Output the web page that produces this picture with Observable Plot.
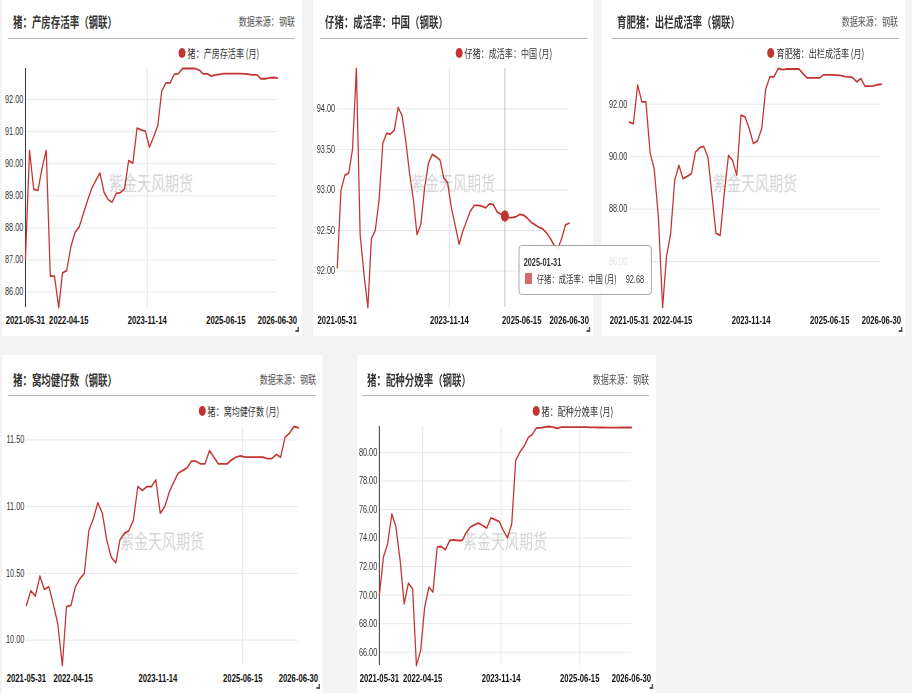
<!DOCTYPE html>
<html><head><meta charset="utf-8">
<script src="https://cdn.jsdelivr.net/npm/d3@7"></script>
<script src="https://cdn.jsdelivr.net/npm/@observablehq/plot@0.6"></script>
<style>
html,body{margin:0;padding:0;}
body{width:912px;height:693px;overflow:hidden;background:#f3f3f3;position:relative;}
#stage{position:absolute;left:0;top:0;width:1303px;height:693px;transform:scaleX(0.7);transform-origin:0 0;font-family:"Noto Sans CJK SC","Noto Sans",sans-serif;}
.panel{position:absolute;background:#fff;}
.title{position:absolute;height:20px;line-height:20px;font-size:13.5px;font-weight:700;color:#333;white-space:nowrap;}
.src{position:absolute;height:20px;line-height:20px;font-size:11.5px;color:#555;white-space:nowrap;}
.sep{position:absolute;height:1px;background:#b4b4b4;}
.ldot{position:absolute;width:10px;height:10px;border-radius:50%;background:#c23531;}
.ltxt{position:absolute;height:16px;line-height:16px;font-size:11.5px;color:#333;white-space:nowrap;}
.wm{position:absolute;font-size:20px;line-height:24px;color:#d6d6d6;white-space:nowrap;transform:translate(-50%,-50%);pointer-events:none;}
.corner{position:absolute;width:3px;height:3px;border-right:2px solid #555;border-bottom:2px solid #555;}
.chart{position:absolute;left:0;}
.tip{position:absolute;box-sizing:border-box;border:1px solid #9a9a9a;border-radius:4px;background:rgba(255,255,255,0.86);}
.tipdate{position:absolute;height:16px;line-height:16px;font-family:"Liberation Sans",Arial,sans-serif;font-weight:700;font-size:10.5px;color:#333;white-space:nowrap;}
.tipsq{position:absolute;background:#d46a6a;}
.tiptxt{position:absolute;height:16px;line-height:16px;font-size:10.5px;color:#333;white-space:nowrap;}
.tipval{position:absolute;height:16px;line-height:16px;font-family:"Liberation Sans",Arial,sans-serif;font-size:10.5px;color:#333;white-space:nowrap;}
</style></head>
<body><div id="stage"></div>
<script>
// ---------- DATA ----------
// monthly observations, month-end dates 2021-05-31 ... 2026-06-30
const months = d3.utcMonth.range(new Date(Date.UTC(2021,5,1)), new Date(Date.UTC(2026,7,1))).map(d => d3.utcDay.offset(d, -1));
const xTickLabels = ["2021-05-31","2022-04-15","2023-11-14","2025-06-15","2026-06-30"];
const xTickLabelsP2 = ["2021-05-31","2023-11-14","2025-06-15","2026-06-30"];

const titles = ["猪：产房存活率（钢联）","仔猪：成活率：中国（钢联）","育肥猪：出栏成活率（钢联）","猪：窝均健仔数（钢联）","猪：配种分娩率（钢联）"];
const legends = ["猪：产房存活率 (月)","仔猪：成活率：中国 (月)","育肥猪：出栏成活率 (月)","猪：窝均健仔数 (月)","猪：配种分娩率 (月)"];
const sourceText = "数据来源：钢联";
const watermark = "紫金天风期货";

const farrowSurvival = [87.03,90.42,89.20,89.17,89.85,90.42,86.50,86.50,85.52,86.60,
 86.67,87.40,87.86,88.02,88.44,88.85,89.22,89.48,89.71,89.11,
 88.88,88.80,89.08,89.10,89.22,90.10,90.02,91.11,91.06,91.02,
 90.52,90.83,91.20,92.27,92.52,92.52,92.79,92.81,92.97,92.97,
 92.97,92.97,92.92,92.80,92.80,92.73,92.77,92.79,92.81,92.81,
 92.81,92.81,92.81,92.80,92.79,92.77,92.77,92.65,92.65,92.68,
 92.69,92.67];
const pigletSurvival = [92.04,93.00,93.18,93.21,93.50,94.50,92.45,91.96,91.55,92.40,
 92.50,92.87,93.58,93.70,93.69,93.74,94.02,93.92,93.61,93.20,
 92.87,92.45,92.58,93.03,93.33,93.44,93.41,93.37,93.15,93.09,
 92.78,92.56,92.33,92.49,92.62,92.74,92.81,92.81,92.80,92.78,
 92.83,92.82,92.73,92.70,92.68,92.66,92.66,92.67,92.70,92.69,
 92.65,92.60,92.57,92.54,92.52,92.47,92.40,92.32,92.28,92.40,
 92.57,92.59];
const finishSurvival = [91.32,91.26,92.73,92.09,92.09,90.14,89.54,87.69,84.25,86.17,
 87.06,89.10,89.67,89.16,89.25,89.35,90.18,90.34,90.39,89.97,
 88.46,87.08,87.00,88.59,90.05,89.86,89.29,91.58,91.52,91.07,
 90.50,90.60,91.07,92.56,93.04,93.04,93.36,93.32,93.34,93.34,
 93.34,93.34,93.17,93.00,93.00,93.00,93.00,93.12,93.12,93.12,
 93.11,93.10,93.06,93.04,93.02,92.85,92.98,92.69,92.69,92.70,
 92.74,92.76];
const healthyLitter = [10.26,10.37,10.33,10.48,10.38,10.40,10.27,10.12,9.81,10.25,
 10.26,10.40,10.46,10.50,10.82,10.91,11.03,10.95,10.75,10.62,
 10.58,10.75,10.80,10.82,10.90,11.15,11.12,11.15,11.15,11.20,
 10.95,11.00,11.11,11.18,11.25,11.27,11.29,11.34,11.34,11.32,
 11.32,11.42,11.37,11.32,11.32,11.32,11.35,11.37,11.38,11.37,
 11.37,11.37,11.37,11.37,11.36,11.36,11.39,11.37,11.52,11.55,
 11.60,11.59];
const farrowingRate = [69.98,72.66,73.60,75.70,74.80,72.43,69.39,70.84,70.44,65.07,
 66.12,69.16,70.56,70.21,73.36,73.41,73.18,73.83,73.88,73.83,
 73.83,74.35,74.77,74.93,75.05,74.88,74.70,75.42,75.30,75.16,
 74.53,74.02,75.00,79.44,80.02,80.42,81.03,81.26,81.73,81.73,
 81.78,81.82,81.78,81.68,81.78,81.78,81.78,81.78,81.77,81.77,
 81.77,81.76,81.76,81.75,81.75,81.74,81.74,81.74,81.74,81.75,
 81.75,81.75];

const yTicks1 = [86,87,88,89,90,91,92];
const yTicks2 = [92,92.5,93,93.5,94];
const yTicks3 = [86,88,90,92];
const yTicks4 = [10,10.5,11,11.5];
const yTicks5 = [66,68,70,72,74,76,78,80];

const vGrid1 = ["2023-11-14"];
const vGrid2 = ["2023-11-14"];
const vGrid3 = [];
const vGrid4 = ["2025-06-15"];
const vGrid5 = ["2022-04-15","2023-11-14","2025-06-15"];

const tipDate = "2025-01-31";

const series = [farrowSurvival, pigletSurvival, finishSurvival, healthyLitter, farrowingRate];
const yTicksAll = [yTicks1, yTicks2, yTicks3, yTicks4, yTicks5];
const vGridAll = [vGrid1, vGrid2, vGrid3, vGrid4, vGrid5];
const xTicksAll = [xTickLabels, xTickLabelsP2, xTickLabels, xTickLabels, xTickLabels];

// ---------- LAYOUT ----------
const S = 0.7, X = v => v / S;
const rows = [
  {top:0, h:336, titleY:21, sepY:38, legY:53, plotTop:68, plotBottom:307},
  {top:355, h:338, titleY:24, sepY:40, legY:56, plotTop:71, plotBottom:310}
];
const layout = [
  {row:0, left:2,   w:300, titleX:11, sep:[6,293],  legX:180, ml:23, mr:25, source:true,  axisLine:true},
  {row:0, left:313, w:280, titleX:12, sep:[7,274],  legX:146, ml:24, mr:24, source:false, axisLine:false},
  {row:0, left:602, w:303, titleX:15, sep:[10,297], legX:169, ml:27, mr:24, source:true,  axisLine:false},
  {row:1, left:2,   w:321, titleX:11, sep:[6,314],  legX:200, ml:24, mr:25, source:true,  axisLine:false},
  {row:1, left:357, w:299, titleX:10, sep:[5,292],  legX:179, ml:22, mr:25, source:true,  axisLine:true}
];
const RED = "#c23531", GRID = "#e4e4e4";
const fmtDate = d3.utcFormat("%Y-%m-%d");
const parse = s => new Date(s + "T00:00:00Z");

const stage = document.getElementById("stage");
function el(parent, cls, style, text) {
  const d = document.createElement("div");
  d.className = cls;
  Object.assign(d.style, style);
  if (text != null) d.textContent = text;
  parent.appendChild(d);
  return d;
}

layout.forEach((L, i) => {
  const R = rows[L.row];
  const values = series[i];
  const pan = el(stage, "panel", {left:X(L.left)+"px", top:R.top+"px", width:X(L.w)+"px", height:R.h+"px"});
  el(pan, "title", {left:X(L.titleX)+"px", top:(R.titleY-10)+"px"}, titles[i]);
  if (L.source) el(pan, "src", {right:X(7)+"px", top:(R.titleY-10)+"px"}, sourceText);
  el(pan, "sep", {left:X(L.sep[0])+"px", width:X(L.sep[1]-L.sep[0])+"px", top:R.sepY+"px"});
  el(pan, "ldot", {left:(X(L.legX)-5)+"px", top:(R.legY-5)+"px"});
  el(pan, "ltxt", {left:(X(L.legX)+8)+"px", top:(R.legY-8)+"px"}, legends[i]);
  el(pan, "wm", {left:X((L.ml + L.w - L.mr)/2)+"px", top:((R.plotTop+R.plotBottom)/2-5)+"px"}, watermark);

  const data = months.map((date, k) => ({date, value: values[k]}));
  const svgTop = R.plotTop - 8;
  const marks = [
    Plot.gridY(yTicksAll[i], {stroke:GRID, strokeOpacity:1}),
    Plot.ruleX(vGridAll[i].map(parse), {stroke:GRID, strokeWidth:1.4})
  ];
  if (i === 1) marks.push(Plot.ruleX([parse(tipDate)], {stroke:"#c4c4c4", strokeWidth:1.4}));
  if (L.axisLine) marks.push(Plot.ruleX([months[0]], {stroke:"#333", strokeWidth:1.4}));
  marks.push(Plot.line(data, {x:"date", y:"value", stroke:RED, strokeWidth:1.8}));
  if (i === 1) marks.push(Plot.dot(data.filter(d => fmtDate(d.date) === tipDate), {x:"date", y:"value", r:5, fill:RED, stroke:RED}));
  marks.push(Plot.axisY(yTicksAll[i], {tickSize:0, tickPadding:3, tickFormat:d => d.toFixed(2), fill:"#333", fontSize:10.5, label:null}));
  marks.push(Plot.axisX(xTicksAll[i].map(parse), {tickSize:0, tickPadding:9, tickFormat:fmtDate, fill:"#111", fontWeight:"bold", fontSize:11, label:null}));

  const chart = Plot.plot({
    width: X(L.w), height: R.h - svgTop,
    marginLeft: X(L.ml), marginRight: X(L.mr), marginTop: 8, marginBottom: R.h - R.plotBottom,
    style: {fontFamily:"'Liberation Sans', Arial, sans-serif", fontSize:"10.5px", background:"transparent", overflow:"visible", color:"#333"},
    x: {type:"utc", domain:[months[0], months[months.length-1]]},
    y: {domain: d3.extent(values)},
    marks
  });
  const holder = el(pan, "chart", {top:svgTop+"px"});
  holder.appendChild(chart);
  el(pan, "corner", {right:X(3)+"px", bottom:"4px"});
});

// tooltip over panel 2
const tipIdx = months.findIndex(d => fmtDate(d) === tipDate);
const tip = el(stage, "tip", {left:X(519)+"px", top:"245px", width:X(133)+"px", height:"50px"});
el(tip, "tipdate", {left:X(4)+"px", top:"8px"}, tipDate);
el(tip, "tipsq", {left:X(5)+"px", top:"27px", width:X(7)+"px", height:"11px"});
el(tip, "tiptxt", {left:X(17)+"px", top:"25px"}, legends[1]);
el(tip, "tipval", {left:X(106)+"px", top:"25px"}, pigletSurvival[tipIdx].toFixed(2));
</script>
</body></html>
